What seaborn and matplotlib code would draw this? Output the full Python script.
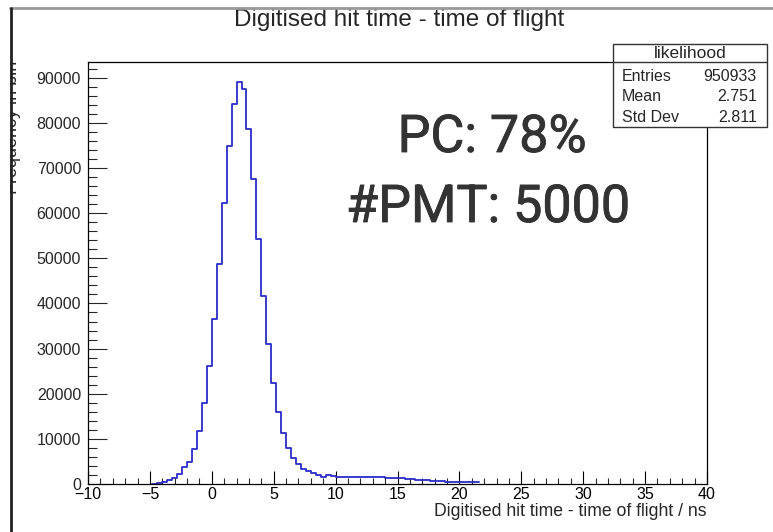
import numpy as np
import pandas as pd
import seaborn as sns
import matplotlib.pyplot as plt
import matplotlib.patheffects as pe
from matplotlib.lines import Line2D
from matplotlib.patches import Rectangle

# histogram of digitised hit time - tof, 0.4 ns bins
bin_edges = [round(-4.8 + 0.4 * i, 1) for i in range(67)]
counts = [
    80, 200, 520, 900, 1400, 2150, 3750, 4850, 7700, 11800,
    17900, 26200, 36600, 48700, 62200, 74900, 84200, 89000, 87500, 78700,
    67500, 54200, 41700, 31100, 22400, 15900, 11200, 7900, 5850, 4400,
    3400, 2800, 2400, 2100, 1650, 1900, 1750, 1650, 1650, 1650,
    1650, 1650, 1650, 1650, 1650, 1650, 1650, 1350, 1350, 1350,
    1350, 1150, 1150, 900, 900, 900, 750, 650, 650, 480,
    480, 480, 480, 480, 480, 480,
]

x_ticks = [-10, -5, 0, 5, 10, 15, 20, 25, 30, 35, 40]
y_ticks = [0, 10000, 20000, 30000, 40000, 50000, 60000, 70000, 80000, 90000]

stats_rows = [("Entries", "950933"), ("Mean", "2.751"), ("Std Dev", "2.811")]

df = pd.DataFrame({
    "t": [(a + b) / 2 for a, b in zip(bin_edges[:-1], bin_edges[1:])],
    "n": counts,
})

sns.set_style("ticks")
plt.rcParams["font.family"] = ["Liberation Sans", "DejaVu Sans"]

W, H = 773, 532
fig = plt.figure(figsize=(W / 100, H / 100), dpi=100)
ax = fig.add_axes([88 / W, 1 - 484 / H, (707 - 88) / W, (484 - 62) / H])

sns.histplot(data=df, x="t", weights="n", bins=bin_edges, element="step",
             fill=False, color="#2b2bc8", linewidth=1.3, ax=ax)

ax.set_xlim(-10, 40)
ax.set_ylim(0, 93500)
ax.set_xticks(x_ticks)
ax.set_xticklabels([str(t).replace("-", "\u2212") for t in x_ticks])
ax.set_yticks(y_ticks)
ax.set_yticklabels([str(t) for t in y_ticks])
ax.set_xticks(np.arange(-10, 41, 1), minor=True)
ax.set_yticks(np.arange(0, 93000, 2000), minor=True)
ax.set_xlabel("")
ax.set_ylabel("")

ax.tick_params(axis="x", which="major", direction="in", length=9.2, width=0.8,
               labelsize=11.5, pad=2, colors="black")
ax.tick_params(axis="x", which="minor", direction="in", length=4.6, width=0.8)
ax.tick_params(axis="y", which="major", direction="in", length=13.4, width=0.8,
               labelsize=11.5, pad=5)
ax.tick_params(axis="y", which="minor", direction="in", length=6.7, width=0.8)
ax.tick_params(top=False, right=False, which="both")
for s in ax.spines.values():
    s.set_visible(True)
    s.set_color("black")
    s.set_linewidth(0.9)

fig.text(399 / W, 1 - 26 / H, "Digitised hit time - time of flight",
         ha="center", va="baseline", fontsize=17.5)
fig.text(706 / W, 1 - 511 / H, "Digitised hit time - time of flight / ns",
         ha="right", va="center", fontsize=12.7)
fig.text(21 / W, 1 - 61 / H, "Frequency in bin", rotation=90,
         ha="right", va="top", fontsize=13)

# big annotation
thick = [pe.withStroke(linewidth=0.6, foreground="#333333")]
fig.text(492 / W, 1 - 152 / H, "PC: 78%", ha="center", va="baseline",
         fontsize=37.5, color="#333333", family="Roboto", path_effects=thick)
fig.text(488 / W, 1 - 222 / H, "#PMT: 5000", ha="center", va="baseline",
         fontsize=37.5, color="#333333", family="Roboto", path_effects=thick)

# stats box
bx0, bx1, by0, by1, bsep = 613, 767, 44, 127, 62
fig.patches.append(Rectangle((bx0 / W, 1 - by1 / H), (bx1 - bx0) / W,
                             (by1 - by0) / H, transform=fig.transFigure,
                             facecolor="white", edgecolor="#333333",
                             linewidth=1, zorder=5))
fig.lines.append(Line2D([bx0 / W, bx1 / W], [1 - bsep / H] * 2,
                        transform=fig.transFigure, color="#333333",
                        linewidth=1, zorder=6))
fig.text((bx0 + bx1) / 2 / W, 1 - 53.5 / H, "likelihood", ha="center",
         va="center", fontsize=12.5, zorder=7)
for i, (name, val) in enumerate(stats_rows):
    yy = 1 - (76.5 + i * 20.3) / H
    fig.text(622 / W, yy, name, ha="left", va="center", fontsize=11.5, zorder=7)
    fig.text(757 / W, yy, val, ha="right", va="center", fontsize=11.5, zorder=7)

# screenshot borders
fig.patches.append(Rectangle((0, 0), 10 / W, 1, transform=fig.transFigure,
                             facecolor="white", edgecolor="none", zorder=8))
fig.lines.append(Line2D([10 / W, 1], [1 - 8 / H] * 2, transform=fig.transFigure,
                        color="#999999", linewidth=2, zorder=9))
fig.lines.append(Line2D([11 / W] * 2, [0, 1 - 8 / H], transform=fig.transFigure,
                        color="#222222", linewidth=2, zorder=9))

fig.savefig("out.png", dpi=100)
